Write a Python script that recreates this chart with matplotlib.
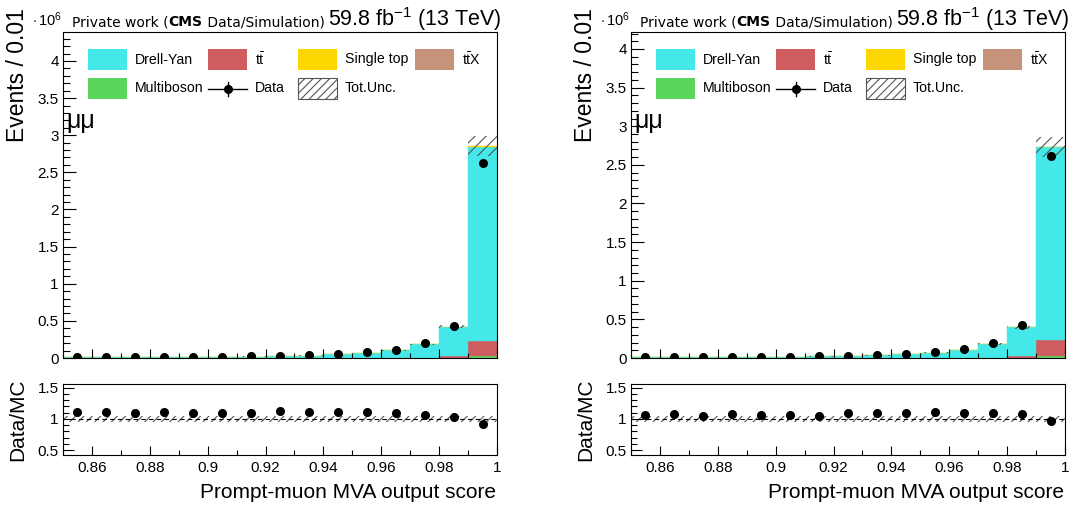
import numpy as np
import matplotlib.pyplot as plt
from matplotlib.patches import Rectangle
from matplotlib.lines import Line2D
from matplotlib.transforms import Affine2D
from matplotlib.ticker import MultipleLocator, FuncFormatter
from matplotlib.offsetbox import TextArea, HPacker, AnnotationBbox

plt.rcParams['font.family'] = ['Liberation Sans', 'DejaVu Sans']
plt.rcParams['mathtext.fontset'] = 'custom'
plt.rcParams['mathtext.rm'] = 'Liberation Sans'
plt.rcParams['mathtext.it'] = 'Liberation Sans:italic'
plt.rcParams['mathtext.bf'] = 'Liberation Sans:bold'
plt.rcParams['hatch.linewidth'] = 0.8

# binning (MVA score), events in units of 10^6
bin_lo = np.array([0.85, 0.86, 0.87, 0.88, 0.89, 0.90, 0.91, 0.92,
                   0.93, 0.94, 0.95, 0.96, 0.97, 0.98, 0.99])
bin_w = 0.01

data = np.array([0.009, 0.009, 0.010, 0.012, 0.013, 0.017, 0.021, 0.027,
                 0.037, 0.055, 0.077, 0.114, 0.198, 0.431, 2.62])

# backgrounds shared by both panels
ttbar = np.array([.0002, .0002, .0002, .0002, .0003, .0003, .0004, .0005,
                  .0006, .0009, .0013, .0020, .0040, .0180, .2050])
multiboson = np.array([.0001, .0001, .0001, .0001, .0001, .0001, .0001, .0002,
                       .0002, .0003, .0004, .0006, .0012, .0030, .0250])
singletop = np.array([0, 0, 0, 0, 0, 0, 0, 0,
                      0, 0, 0, .0001, .0002, .0006, .0040])
ttx = np.array([0, 0, 0, 0, 0, 0, 0, 0,
                0, 0, 0, 0, 0, .0002, .0020])

# Drell-Yan differs between the two panels
dy_left = np.array([.0078, .0078, .0088, .0105, .0115, .0152, .0188, .0233,
                    .0323, .0483, .0679, .1022, .1809, .3991, 2.614])
dy_right = np.array([.0082, .0081, .0092, .0109, .0119, .0157, .0195, .0240,
                     .0331, .0487, .0679, .1012, .1743, .3765, 2.499])

# relative total uncertainty
unc_rel = np.array([.047, .047, .047, .047, .047, .047, .047, .047,
                    .047, .047, .047, .047, .047, .047, .047])

ymax_left = 4.39
ymax_right = 4.22

c_dy = '#45e8e8'
c_tt = '#cf5c5f'
c_st = '#ffd700'
c_ttx = '#c4937a'
c_vv = '#5bd55b'

W, H = 1072, 509
fig = plt.figure(figsize=(W / 100, H / 100), dpi=100)
# image pixel coords (y from top) -> display
pix = Affine2D().scale(1, -1).translate(0, H)

fmt = FuncFormatter(lambda v, p: '%g' % round(v, 3))


def draw_panel(x0, dy, ymax):
    ax_w = 434
    ax = fig.add_axes([x0 / W, 1 - 358 / H, ax_w / W, 326 / H])
    axr = fig.add_axes([x0 / W, 1 - 455 / H, ax_w / W, 71 / H])

    stack = [(ttx, c_ttx), (multiboson, c_vv), (ttbar, c_tt), (dy, c_dy), (singletop, c_st)]
    base = np.zeros(len(bin_lo))
    for vals, col in stack:
        ax.bar(bin_lo, vals, width=bin_w, bottom=base, align='edge',
               color=col, edgecolor=col, linewidth=0.3)
        base = base + vals
    mc = base
    unc = mc * unc_rel
    ax.bar(bin_lo, 2 * unc, width=bin_w, bottom=mc - unc, align='edge',
           fill=False, hatch='///', edgecolor='#555555', linewidth=0)
    ax.plot(bin_lo + bin_w / 2, data, 'o', color='black', ms=5.5, zorder=5)

    ax.set_xlim(0.85, 1.0)
    ax.set_ylim(0, ymax)
    ax.yaxis.set_major_locator(MultipleLocator(0.5))
    ax.yaxis.set_minor_locator(MultipleLocator(0.1))
    ax.xaxis.set_major_locator(MultipleLocator(0.02))
    ax.xaxis.set_minor_locator(MultipleLocator(0.01))
    ax.yaxis.set_major_formatter(fmt)
    ax.tick_params(labelbottom=False)
    ax.tick_params(axis='y', which='major', length=9.4, labelsize=11, pad=3)
    ax.tick_params(axis='y', which='minor', length=4.7)
    ax.tick_params(axis='x', which='major', length=6.5)
    ax.tick_params(axis='x', which='minor', length=3.6)

    ratio = data / mc
    axr.bar(bin_lo, 2 * unc_rel, width=bin_w, bottom=1 - unc_rel, align='edge',
            fill=False, hatch='////', edgecolor='#555555', linewidth=0)
    axr.axhline(1, color='black', lw=0.8, ls=(0, (4, 3)))
    axr.plot(bin_lo + bin_w / 2, ratio, 'o', color='black', ms=5.5, zorder=5)
    axr.set_xlim(0.85, 1.0)
    axr.set_ylim(0.42, 1.56)
    axr.yaxis.set_major_locator(MultipleLocator(0.5))
    axr.yaxis.set_minor_locator(MultipleLocator(0.1))
    axr.xaxis.set_major_locator(MultipleLocator(0.02))
    axr.xaxis.set_minor_locator(MultipleLocator(0.01))
    axr.xaxis.set_major_formatter(fmt)
    axr.yaxis.set_major_formatter(fmt)
    axr.tick_params(axis='y', which='major', length=8, labelsize=11, pad=3)
    axr.tick_params(axis='y', which='minor', length=4)
    axr.tick_params(axis='x', which='major', length=6.5, labelsize=11, pad=4)
    axr.tick_params(axis='x', which='minor', length=3.6)

    for a in (ax, axr):
        a.tick_params(which='both', direction='in', top=False, right=False, width=0.8)
        for s in a.spines.values():
            s.set_linewidth(0.8)

    # texts (image pixel coordinates)
    fig.text(x0 - 1, 26, r'$\cdot\,10^{6}$', transform=pix, ha='right', va='baseline', fontsize=10.5)
    hdr = HPacker(children=[
        TextArea('Private work (', textprops=dict(family='DejaVu Sans', size=10)),
        TextArea('CMS', textprops=dict(family='DejaVu Sans', size=10, weight='bold')),
        TextArea(' Data/Simulation)', textprops=dict(family='DejaVu Sans', size=10)),
    ], sep=0, pad=0, align='baseline')
    fig.add_artist(AnnotationBbox(hdr, (x0 + 9, 29), xycoords=pix, box_alignment=(0, 0),
                                  frameon=False, pad=0))
    fig.text(x0 + ax_w + 5, 26, r'59.8 fb$^{-1}$ (13 TeV)', transform=pix,
             ha='right', va='baseline', fontsize=15.5)
    fig.text(x0 + 3, 128, 'μμ', transform=pix, ha='left', va='baseline', fontsize=18)
    fig.text(x0 - 45, 8, 'Events / 0.01', transform=pix, rotation=90,
             ha='center', va='top', fontsize=16.5)
    fig.text(x0 - 45, 420, 'Data/MC', transform=pix, rotation=90,
             ha='center', va='center', fontsize=15)
    fig.text(x0 + ax_w - 1, 493, 'Prompt-muon MVA output score', transform=pix,
             ha='right', va='center', fontsize=15)

    # legend, ROOT style
    cols = [x0 + 25, x0 + 145, x0 + 235, x0 + 352]
    rows = [49, 78]
    bw, bh = 39, 21
    boxes = [(0, 0, c_dy, 'Drell-Yan'), (1, 0, c_tt, r'$\mathrm{t\bar{t}}$'),
             (2, 0, c_st, 'Single top'), (3, 0, c_ttx, r'$\mathrm{t\bar{t}X}$'),
             (0, 1, c_vv, 'Multiboson')]
    for ci, ri, col, lab in boxes:
        fig.add_artist(Rectangle((cols[ci], rows[ri]), bw, bh, transform=pix,
                                 facecolor=col, edgecolor='none'))
        fig.text(cols[ci] + bw + 8, rows[ri] + bh / 2, lab, transform=pix,
                 ha='left', va='center', fontsize=10.2)
    xc, yc = cols[1] + bw / 2, rows[1] + bh / 2
    fig.add_artist(Line2D([cols[1], cols[1] + bw], [yc, yc], transform=pix, color='black', lw=1))
    fig.add_artist(Line2D([xc, xc], [yc - 7, yc + 7], transform=pix, color='black', lw=1))
    fig.add_artist(Line2D([xc], [yc], transform=pix, marker='o', color='black', ms=5.5))
    fig.text(cols[1] + bw + 8, yc, 'Data', transform=pix, ha='left', va='center', fontsize=10.2)
    fig.add_artist(Rectangle((cols[2], rows[1]), bw, bh, transform=pix, facecolor='none',
                             edgecolor='#555555', hatch='////', linewidth=0.8))
    fig.text(cols[2] + bw + 8, yc, 'Tot.Unc.', transform=pix, ha='left', va='center', fontsize=10.2)


draw_panel(63, dy_left, ymax_left)
draw_panel(631, dy_right, ymax_right)

plt.savefig('out.png', dpi=100)
